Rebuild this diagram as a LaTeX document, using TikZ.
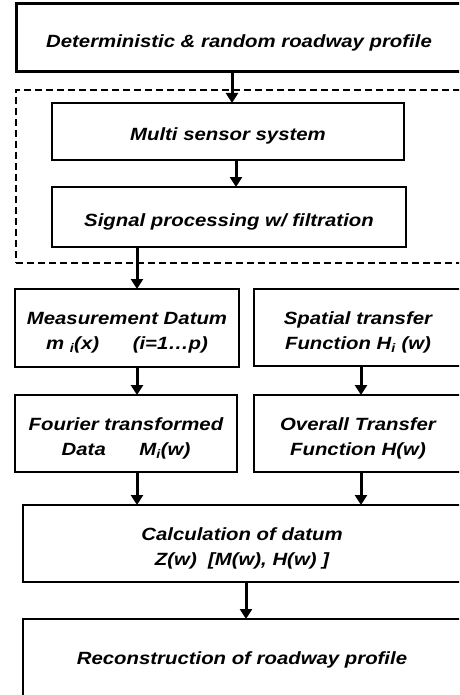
\documentclass[tikz,border=0pt]{standalone}
\usepackage{fontspec}
\setmainfont{Liberation Sans}[FakeStretch=1.15]
\usetikzlibrary{arrows.meta}
\newcommand{\upstrut}{\rule{0pt}{22pt}}
\begin{document}
\begin{tikzpicture}[x=1pt,y=-1pt,
  txt/.style={font=\fontsize{17.7}{25}\selectfont\bfseries\itshape},
  box/.style={draw, line width=2.8pt, rectangle, inner sep=0pt, outer sep=0pt,
    txt, align=center, anchor=north west},
  grpbox/.style={draw, line width=2pt, dash pattern=on 7pt off 4pt, rectangle,
    inner sep=0pt, outer sep=0pt, anchor=north west},
  arr/.style={line width=3pt, -{Triangle[width=12pt,length=10pt]}}]
\useasboundingbox (0,0) rectangle (459,695);
\clip (0,0) rectangle (459,695);
\fill[white] (0,0) rectangle (459,695);
\node[box, line width=3pt, minimum width=446pt, minimum height=68pt] (top) at (16,4) {\upstrut Deterministic \& random roadway profile};
\node[grpbox, minimum width=460pt, minimum height=173pt] (grp) at (16,90) {};
\node[box, minimum width=352pt, minimum height=57pt] (multi) at (52,103) {\upstrut Multi sensor system};
\node[box, minimum width=354pt, minimum height=60pt] (signal) at (52,187) {\upstrut Signal processing w/ filtration};
\node[box, minimum width=224pt, minimum height=78pt] (meas) at (15,289) {\upstrut Measurement Datum\\m \textsubscript{i}(x)\hspace{1.9em}(i=1…p)};
\node[box, minimum width=208pt, minimum height=77pt] (spat) at (254,289) {\upstrut Spatial transfer\\Function H\textsubscript{i} (w)};
\node[box, minimum width=222pt, minimum height=77pt] (four) at (15,395) {\upstrut Fourier transformed\\Data\hspace{1.9em}M\textsubscript{i}(w)};
\node[box, minimum width=208pt, minimum height=77pt] (over) at (254,395) {\upstrut Overall Transfer\\Function H(w)};
\node[box, minimum width=438pt, minimum height=77pt] (calc) at (23,505) {\upstrut Calculation of datum\\Z(w)\ \ [M(w), H(w) ]};
\node[box, minimum width=438pt, minimum height=100pt] (recon) at (23,619) {};
\node[txt] (recontext) at (242,660) {Reconstruction of roadway profile};
\draw[arr] ([xshift=4pt]multi.north |- top.south) -- ([xshift=4pt]multi.north);
\draw[arr] ([xshift=8pt]multi.south) -- ([xshift=8pt]multi.south |- signal.north);
\draw[arr] ([xshift=10pt]meas.north |- signal.south) -- ([xshift=10pt]meas.north);
\draw[arr] ([xshift=10pt]meas.south) -- ([xshift=10pt]meas.south |- four.north);
\draw[arr] ([xshift=3pt]spat.south) -- ([xshift=3pt]spat.south |- over.north);
\draw[arr] ([xshift=11pt]four.south) -- ([xshift=11pt]four.south |- calc.north);
\draw[arr] ([xshift=3pt]over.south) -- ([xshift=3pt]over.south |- calc.north);
\draw[arr] ([xshift=4pt]calc.south) -- ([xshift=4pt]calc.south |- recon.north);
\end{tikzpicture}
\end{document}
